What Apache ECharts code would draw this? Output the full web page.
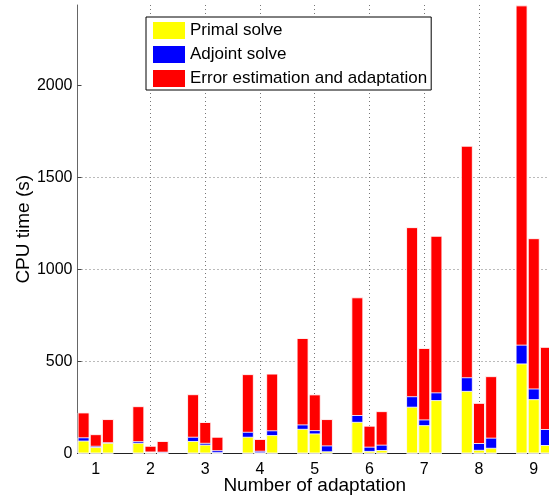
<!DOCTYPE html>
<html>
<head>
<meta charset="utf-8">
<script src="https://cdn.jsdelivr.net/npm/echarts@6/dist/echarts.min.js"></script>
<style>
  html, body { margin: 0; padding: 0; background: #ffffff; }
  #chart { width: 549px; height: 499px; }
</style>
</head>
<body>
<div id="chart"></div>
<script>
// Adaptation steps on the x axis
const adaptations = [1, 2, 3, 4, 5, 6, 7, 8, 9];

// CPU time in seconds, three runs per adaptation step
const primalSolve = [
  [70, 35, 58], [58, 8, 3], [68, 48, 5], [91, 3, 100], [134, 109, 12],
  [172, 14, 19], [254, 154, 290], [340, 20, 31], [489, 295, 46]
];
const adjointSolve = [
  [18, 7, 3], [9, 3, 7], [23, 10, 13], [27, 12, 26], [24, 18, 32],
  [37, 23, 29], [57, 31, 42], [74, 37, 55], [102, 58, 87]
];
const errorEstimation = [
  [135, 63, 126], [190, 31, 58], [231, 113, 73], [313, 64, 308], [469, 194, 143],
  [639, 114, 182], [918, 388, 850], [1257, 218, 334], [1842, 816, 446]
];

const yTickValues = [0, 500, 1000, 1500, 2000];
const seriesNames = ['Primal solve', 'Adjoint solve', 'Error estimation and adaptation'];
const seriesColors = ['#ffff00', '#0000ff', '#ff0000'];
const yMax = 2435;

// horizontal shift of each run's bar inside its adaptation group
const runShift = [-2 / 9, 0, 2 / 9];

// Stacked bars: each segment is drawn as a bar reaching the running total,
// lower segments painted over the upper ones.
const components = [primalSolve, adjointSolve, errorEstimation];
function cumulativePoints(level) {
  const pts = [];
  adaptations.forEach((a, i) => {
    for (let k = 0; k < 3; k++) {
      let sum = 0;
      for (let c = 0; c <= level; c++) sum += components[c][i][k];
      pts.push([a + runShift[k], sum]);
    }
  });
  return pts;
}

const font = 'Liberation Sans, Arial, Helvetica, sans-serif';
const chart = echarts.init(document.getElementById('chart'), null, { renderer: 'canvas' });

// draw the top component first so lower ones sit above it
const drawOrder = [2, 1, 0];

chart.setOption({
  animation: false,
  backgroundColor: '#ffffff',
  textStyle: { fontFamily: font, color: '#000' },
  grid: { left: 77.5, right: -3, top: 5, bottom: 45.5, containLabel: false, outerBoundsMode: 'none' },
  legend: {
    orient: 'vertical',
    left: 146,
    top: 17,
    padding: [5, 4, 3, 7],
    itemGap: 7,
    itemWidth: 32,
    itemHeight: 17,
    itemTextGap: 5,
    icon: 'rect',
    backgroundColor: '#ffffff',
    borderColor: '#000000',
    borderWidth: 1,
    borderRadius: 0,
    data: seriesNames,
    itemStyle: { borderWidth: 0 },
    textStyle: { fontFamily: font, fontSize: 17, color: '#000', lineHeight: 17 }
  },
  xAxis: {
    type: 'value',
    min: 2 / 3,
    max: 28 / 3,
    splitNumber: 9,
    minInterval: 1,
    maxInterval: 1,
    name: 'Number of adaptation',
    nameLocation: 'middle',
    nameGap: 23,
    nameMoveOverlap: false,
    nameTextStyle: { fontFamily: font, fontSize: 19, color: '#000' },
    axisLine: { show: true, onZero: false, lineStyle: { color: '#222', width: 1 } },
    axisTick: { show: true, inside: true, length: 4, customValues: adaptations, lineStyle: { color: '#222' } },
    axisLabel: { customValues: adaptations, fontFamily: font, fontSize: 16, color: '#000', margin: 8 },
    splitLine: {
      show: true, showMinLine: false, showMaxLine: false,
      lineStyle: { color: '#777', type: [1, 3], width: 1 }
    }
  },
  yAxis: {
    type: 'value',
    min: 0,
    max: yMax,
    interval: 500,
    name: 'CPU time (s)',
    nameLocation: 'middle',
    nameGap: 44,
    nameMoveOverlap: false,
    nameRotate: 90,
    nameTextStyle: { fontFamily: font, fontSize: 19, color: '#000' },
    axisLine: { show: true, lineStyle: { color: '#666', width: 1 } },
    axisTick: { show: true, inside: true, length: 4, customValues: yTickValues, lineStyle: { color: '#444' } },
    axisLabel: {
      customValues: yTickValues, fontFamily: font, fontSize: 16, color: '#000', margin: 5,
      formatter: v => String(v)
    },
    splitLine: {
      show: true, showMinLine: false, showMaxLine: false,
      lineStyle: { color: '#777', type: [1, 3], width: 1 }
    }
  },
  series: drawOrder.map(c => ({
    name: seriesNames[c],
    type: 'bar',
    barWidth: 12,
    barGap: '-100%',
    data: cumulativePoints(c),
    itemStyle: {
      color: seriesColors[c],
      borderColor: 'rgba(255,255,255,0.85)',
      borderWidth: 1
    },
    emphasis: { disabled: true }
  }))
});
</script>
</body>
</html>
